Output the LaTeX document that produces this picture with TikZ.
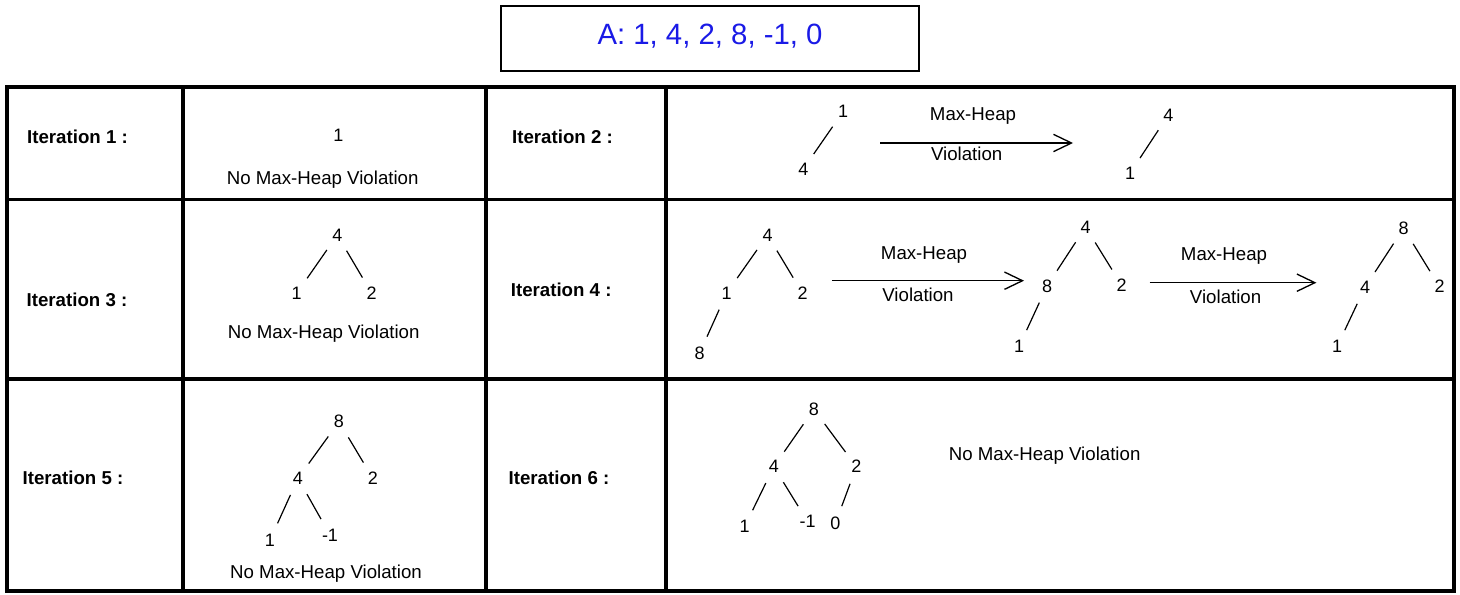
\documentclass[tikz,border=0pt]{standalone}
\usepackage{fontspec}
\setmainfont{Liberation Sans}
\usetikzlibrary{arrows.meta}
\definecolor{titleblue}{RGB}{26,26,230}
\begin{document}
\begin{tikzpicture}[x=0.75pt,y=-0.75pt,
  grid/.style={line width=2.5pt},
  lbl/.style={inner sep=0pt, anchor=base, font=\fontsize{14}{16}\selectfont},
  iter/.style={inner sep=0pt, anchor=base, font=\bfseries\fontsize{14}{16}\selectfont},
  tnode/.style={circle, inner sep=0pt, minimum size=27pt, font=\fontsize{13.5}{15}\selectfont},
  tedge/.style={line width=0.9pt},
  arr/.style={line width=1pt, -{Straight Barb[length=13.5pt,width=13pt]}}]

\useasboundingbox (0,0) rectangle (1460,595);

% array being heapified
\node[draw, line width=1.5pt, minimum width=313.5pt, minimum height=48.5pt,
      text=titleblue, font=\fontsize{22}{26}\selectfont,
      text height=16pt, text depth=6.1pt] (title) at (710,38.3) {A: 1, 4, 2, 8, -1, 0};

% table frame
\draw[grid] (7,87) rectangle (1454,591);
\draw[grid] (7,199.5) -- (1454,199.5);
\draw[grid] (7,379) -- (1454,379);
\foreach \x in {183,486,666} \draw[grid] (\x,87) -- (\x,591);

% ---------- iteration 1 ----------
\node[iter] (it1) at (77.5,143.3) {Iteration 1 :};
\node[tnode] (a1) at (338.3,135) {1};
\node[lbl] (nv1) at (322.7,185) {No Max-Heap Violation};

% ---------- iteration 2 ----------
\node[iter] (it2) at (562.5,143.3) {Iteration 2 :};
\node[tnode] (b1) at (843,111.7) {1};
\node[tnode] (b2) at (803.3,169) {4};
\draw[tedge] (b1) -- (b2);
\coordinate (bs) at (880,143);
\coordinate (be) at (1073,143);
\draw[arr] (bs) -- (be);
\node[lbl] (bm) at (973,121) {Max-Heap};
\node[lbl] (bv) at (966.7,161) {Violation};
\node[tnode] (b3) at (1168.3,115) {4};
\node[tnode] (b4) at (1130,173.3) {1};
\draw[tedge] (b3) -- (b4);

% ---------- iteration 3 ----------
\node[iter] (it3) at (77,306.7) {Iteration 3 :};
\node[tnode] (c1) at (337.3,235) {4};
\node[tnode] (c2) at (296.7,293.3) {1};
\node[tnode] (c3) at (371.7,293.3) {2};
\draw[tedge] (c1) -- (c2);
\draw[tedge] (c1) -- (c3);
\node[lbl] (nv3) at (323.7,338.3) {No Max-Heap Violation};

% ---------- iteration 4 ----------
\node[iter] (it4) at (561.2,296.7) {Iteration 4 :};
\node[tnode] (d1) at (767.5,235) {4};
\node[tnode] (d2) at (726.7,293) {1};
\node[tnode] (d3) at (802.6,293.3) {2};
\node[tnode] (d4) at (699.5,353.3) {8};
\draw[tedge] (d1) -- (d2);
\draw[tedge] (d1) -- (d3);
\draw[tedge] (d2) -- (d4);
\coordinate (ds) at (831.8,280.7);
\coordinate (de) at (1024,280.7);
\draw[arr] (ds) -- (de);
\node[lbl] (dm) at (924,260) {Max-Heap};
\node[lbl] (dv) at (918,301.7) {Violation};

\node[tnode] (e1) at (1085.6,227) {4};
\node[tnode] (e2) at (1047,286) {8};
\node[tnode] (e3) at (1121.5,285) {2};
\node[tnode] (e4) at (1019,346.7) {1};
\draw[tedge] (e1) -- (e2);
\draw[tedge] (e1) -- (e3);
\draw[tedge] (e2) -- (e4);
\coordinate (es) at (1149.7,282.7);
\coordinate (ee) at (1316.4,282.7);
\draw[arr] (es) -- (ee);
\node[lbl] (em) at (1224,260.7) {Max-Heap};
\node[lbl] (ev) at (1225.6,303.4) {Violation};

\node[tnode] (f1) at (1403.6,228.3) {8};
\node[tnode] (f2) at (1365,287.3) {4};
\node[tnode] (f3) at (1439.5,286.7) {2};
\node[tnode] (f4) at (1337,346.7) {1};
\draw[tedge] (f1) -- (f2);
\draw[tedge] (f1) -- (f3);
\draw[tedge] (f2) -- (f4);

% ---------- iteration 5 ----------
\node[iter] (it5) at (73,484.7) {Iteration 5 :};
\node[tnode] (g1) at (339,421.7) {8};
\node[tnode] (g2) at (298,478.3) {4};
\node[tnode] (g3) at (372.8,478.3) {2};
\node[tnode] (g4) at (270,540) {1};
\node[tnode] (g5) at (330,535) {-1};
\draw[tedge] (g1) -- (g2);
\draw[tedge] (g1) -- (g3);
\draw[tedge] (g2) -- (g4);
\draw[tedge] (g2) -- (g5);
\node[lbl] (nv5) at (326,578.3) {No Max-Heap Violation};

% ---------- iteration 6 ----------
\node[iter] (it6) at (559,484.7) {Iteration 6 :};
\node[tnode] (h1) at (813.8,409.3) {8};
\node[tnode] (h2) at (773.8,466.7) {4};
\node[tnode] (h3) at (856.4,466.7) {2};
\node[tnode] (h4) at (744.6,526.7) {1};
\node[tnode] (h5) at (807.7,521.7) {-1};
\node[tnode] (h6) at (835.4,523.3) {0};
\draw[tedge] (h1) -- (h2);
\draw[tedge] (h1) -- (h3);
\draw[tedge] (h2) -- (h4);
\draw[tedge] (h2) -- (h5);
\draw[tedge] (h3) -- (h6);
\node[lbl] (nv6) at (1044.6,460) {No Max-Heap Violation};
\end{tikzpicture}
\end{document}
